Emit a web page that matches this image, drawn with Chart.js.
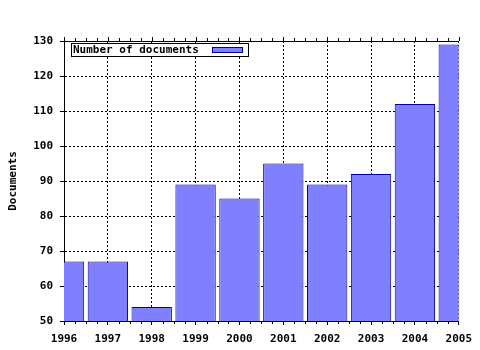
<!DOCTYPE html>
<html>
<head>
<meta charset="utf-8">
<script src="https://cdn.jsdelivr.net/npm/chart.js@4/dist/chart.umd.min.js"></script>
<style>
  html, body { margin: 0; padding: 0; background: #fff; }
</style>
</head>
<body>
<canvas id="myChart" width="480" height="350"></canvas>
<script>
const years = ['1996', '1997', '1998', '1999', '2000', '2001', '2002', '2003', '2004', '2005'];
const documents = [67, 67, 54, 89, 85, 95, 89, 92, 112, 129];
const seriesLabel = 'Number of documents';
const yMin = 50;
const yMax = 130;
const yStep = 10;

Chart.defaults.font.family = '"DejaVu Sans Mono", monospace';
Chart.defaults.font.size = 11;
Chart.defaults.font.weight = 'bold';
Chart.defaults.color = '#000';

// top axis line, minor ticks and the boxed legend inside the plot
const extras = {
    id: 'extras',
    afterDraw(chart) {
        const { ctx, chartArea: a, scales: { x } } = chart;
        ctx.save();
        ctx.strokeStyle = '#000';
        ctx.lineWidth = 1;
        ctx.beginPath();
        ctx.moveTo(a.left, a.top + 0.5);
        ctx.lineTo(a.right, a.top + 0.5);
        for (let i = 0; i < years.length; i++) {
            const px = x.getPixelForValue(i);
            const rx = Math.round(px) + 0.5;
            ctx.moveTo(rx, a.top);
            ctx.lineTo(rx, a.top - 4);
            if (i < years.length - 1) {
                const nx = x.getPixelForValue(i + 1);
                for (let k = 1; k < 4; k++) {
                    const mx = Math.round(px + (nx - px) * k / 4) + 0.5;
                    ctx.moveTo(mx, a.top);
                    ctx.lineTo(mx, a.top - 3);
                    ctx.moveTo(mx, a.bottom);
                    ctx.lineTo(mx, a.bottom + 3);
                }
            }
        }
        ctx.stroke();

        // legend
        const ds = chart.data.datasets[0];
        ctx.fillStyle = '#fff';
        ctx.fillRect(71, 43, 178, 14);
        ctx.strokeRect(71.5, 43.5, 177, 13);
        ctx.fillStyle = '#000';
        ctx.font = 'bold 11px "DejaVu Sans Mono", monospace';
        ctx.textBaseline = 'middle';
        ctx.fillText(ds.label, 73, 50.5);
        ctx.fillStyle = ds.backgroundColor;
        ctx.fillRect(212, 47, 31, 6);
        ctx.strokeStyle = ds.borderColor;
        ctx.strokeRect(212.5, 47.5, 30, 5);
        ctx.restore();
    }
};

new Chart(document.getElementById('myChart'), {
    type: 'bar',
    data: {
        labels: years,
        datasets: [{
            label: seriesLabel,
            data: documents,
            backgroundColor: '#8080ff',
            borderColor: '#0000a0',
            borderWidth: 1,
            borderSkipped: false,
            barPercentage: 0.92,
            categoryPercentage: 1,
            clip: 0
        }]
    },
    options: {
        responsive: false,
        animation: false,
        layout: { padding: { top: 41, right: 20, left: 0, bottom: 0 } },
        plugins: {
            legend: { display: false },
            tooltip: { enabled: false }
        },
        scales: {
            x: {
                offset: false,
                grid: { offset: false, color: '#000', tickLength: 4, tickColor: '#000' },
                border: { display: true, color: '#000', width: 1, dash: [2, 2] },
                ticks: { padding: 8, maxRotation: 0, autoSkip: false },
                afterFit(s) { s.height = 29; }
            },
            y: {
                min: yMin,
                max: yMax,
                ticks: { stepSize: yStep, padding: 7 },
                grid: { color: '#000', tickLength: 4, tickColor: '#000' },
                border: { display: true, color: '#000', width: 1, dash: [2, 2] },
                title: { display: true, text: 'Documents', padding: { top: 7, bottom: 0 } },
                afterFit(s) { s.width = 64; }
            }
        }
    },
    plugins: [extras]
});
</script>
</body>
</html>
